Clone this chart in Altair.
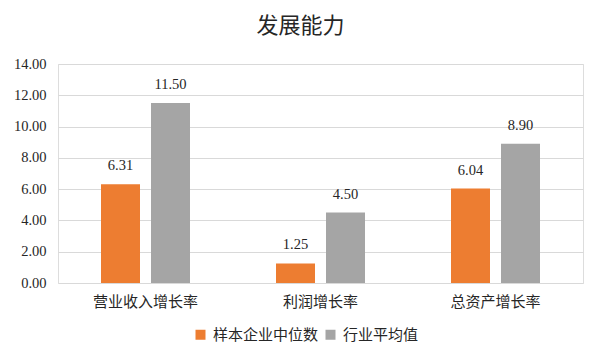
import altair as alt
import pandas as pd

categories = ["营业收入增长率", "利润增长率", "总资产增长率"]
series = ["样本企业中位数", "行业平均值"]
median_values = [6.31, 1.25, 6.04]
industry_values = [11.50, 4.50, 8.90]
colors = ["#ED7D31", "#A5A5A5"]

rows = []
for c, m, a in zip(categories, median_values, industry_values):
    rows.append({"cat": c, "series": series[0], "value": m})
    rows.append({"cat": c, "series": series[1], "value": a})
df = pd.DataFrame(rows)

x = alt.X("cat:N", sort=categories, title=None,
          scale=alt.Scale(paddingInner=0, paddingOuter=0),
          axis=alt.Axis(labelAngle=0, labelFont="Noto Sans CJK SC", labelFontSize=15,
                        labelColor="#262626", ticks=False, domain=False, labelPadding=11))
xo = alt.XOffset("series:N", sort=series,
                 scale=alt.Scale(paddingInner=0.22, paddingOuter=0.86))
y = alt.Y("value:Q", title=None,
          scale=alt.Scale(domain=[0, 14]),
          axis=alt.Axis(values=[0, 2, 4, 6, 8, 10, 12, 14], format=".2f",
                        labelFont="Liberation Serif", labelFontSize=14.5, labelColor="#262626",
                        ticks=False, domain=False, gridColor="#D9D9D9", labelPadding=12))

base = alt.Chart(df).encode(x=x, xOffset=xo, y=y)

bars = base.mark_bar().encode(
    color=alt.Color("series:N", sort=series,
                    scale=alt.Scale(domain=series, range=colors),
                    legend=alt.Legend(title=None, orient="none", direction="horizontal",
                                      legendX=135, legendY=263, symbolType="square",
                                      symbolSize=100, symbolStrokeWidth=0,
                                      labelFont="Noto Sans CJK SC", labelFontSize=15,
                                      labelColor="#262626", columnPadding=4, labelOffset=5))
)

labels = base.mark_text(dy=-14, baseline="alphabetic", font="Liberation Serif",
                        fontSize=14.5, color="#262626").encode(
    text=alt.Text("value:Q", format=".2f"))

chart = alt.layer(bars, labels).properties(
    width=525, height=219,
    title=alt.TitleParams("发展能力", font="Noto Sans CJK SC", fontSize=22,
                          fontWeight="normal", color="#262626", anchor="middle",
                          dx=-20, offset=18),
    autosize=alt.AutoSizeParams(type="none"),
    padding={"left": 50, "top": 56, "right": 11, "bottom": 71},
).configure_view(stroke=None).configure(background="white")

chart.save("out.html", embed_options={"renderer": "svg", "actions": False})
